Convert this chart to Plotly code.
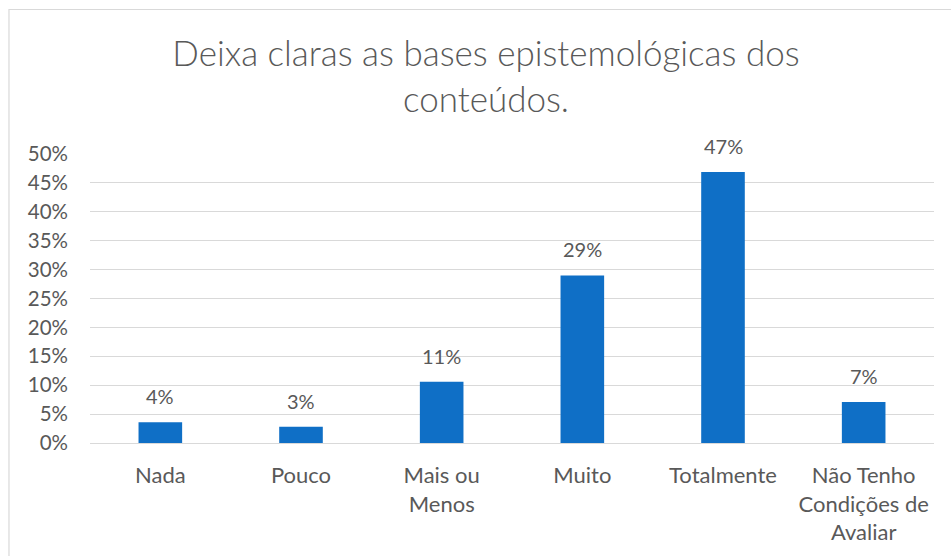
import plotly.graph_objects as go

# Survey answers and their share of respondents
categories = ["Nada", "Pouco", "Mais ou<br>Menos", "Muito", "Totalmente",
              "Não Tenho<br>Condições de<br>Avaliar"]
shares = [0.036, 0.028, 0.106, 0.29, 0.469, 0.071]
y_ticks = [0, 0.05, 0.10, 0.15, 0.20, 0.25, 0.30, 0.35, 0.40, 0.45, 0.50]
title_text = "Deixa claras as bases epistemológicas dos<br>conteúdos."

FONT = "Lato"
TEXT_GREY = "#595959"
GRID_GREY = "#D9D9D9"
BAR_BLUE = "#0F6FC6"

W, H = 951, 556
left, right, top, bottom = 89.6, 934.4, 154, 443

fig = go.Figure(
    go.Bar(
        x=categories,
        y=shares,
        marker=dict(color=BAR_BLUE, line=dict(width=0)),
        width=0.31,
        hoverinfo="skip",
    )
)

# Value labels above each bar, formatted from the same values
for cat, val in zip(categories, shares):
    fig.add_annotation(
        x=cat, y=val, xref="x", yref="y",
        text=f"{val:.0%}",
        showarrow=False, yanchor="bottom", yshift=12,
        font=dict(family=FONT, size=20, color=TEXT_GREY),
    )

# Chart-area border
plot_w = right - left
plot_h = bottom - top
fig.add_shape(
    type="rect", xref="paper", yref="paper",
    x0=(8.5 - left) / plot_w, x1=(960 - left) / plot_w,
    y0=(bottom - 570) / plot_h, y1=(bottom - 9.5) / plot_h,
    line=dict(color=GRID_GREY, width=1.2), fillcolor="rgba(0,0,0,0)",
    layer="below",
)

fig.update_layout(
    width=W, height=H,
    margin=dict(l=left, r=W - right, t=top, b=H - bottom, pad=0),
    paper_bgcolor="white", plot_bgcolor="white",
    showlegend=False,
    title=dict(
        text=title_text, x=486 / W, xref="container", xanchor="center",
        y=1 - 66 / H, yref="container", yanchor="middle",
        font=dict(family=FONT, size=35, color=TEXT_GREY, weight=300),
    ),
    xaxis=dict(
        showgrid=False, showline=False, zeroline=False, ticks="",
        tickfont=dict(family=FONT, size=22, color=TEXT_GREY),
        ticklabelstandoff=17,
    ),
    yaxis=dict(
        range=[0, 0.5], tickvals=y_ticks, tickformat=".0%",
        showgrid=True, gridcolor=GRID_GREY, gridwidth=1.2,
        zeroline=True, zerolinecolor=GRID_GREY, zerolinewidth=1.2,
        showline=False, ticks="",
        tickfont=dict(family=FONT, size=20.5, color=TEXT_GREY),
        ticklabelstandoff=21,
    ),
)

fig.write_html("out.html")
